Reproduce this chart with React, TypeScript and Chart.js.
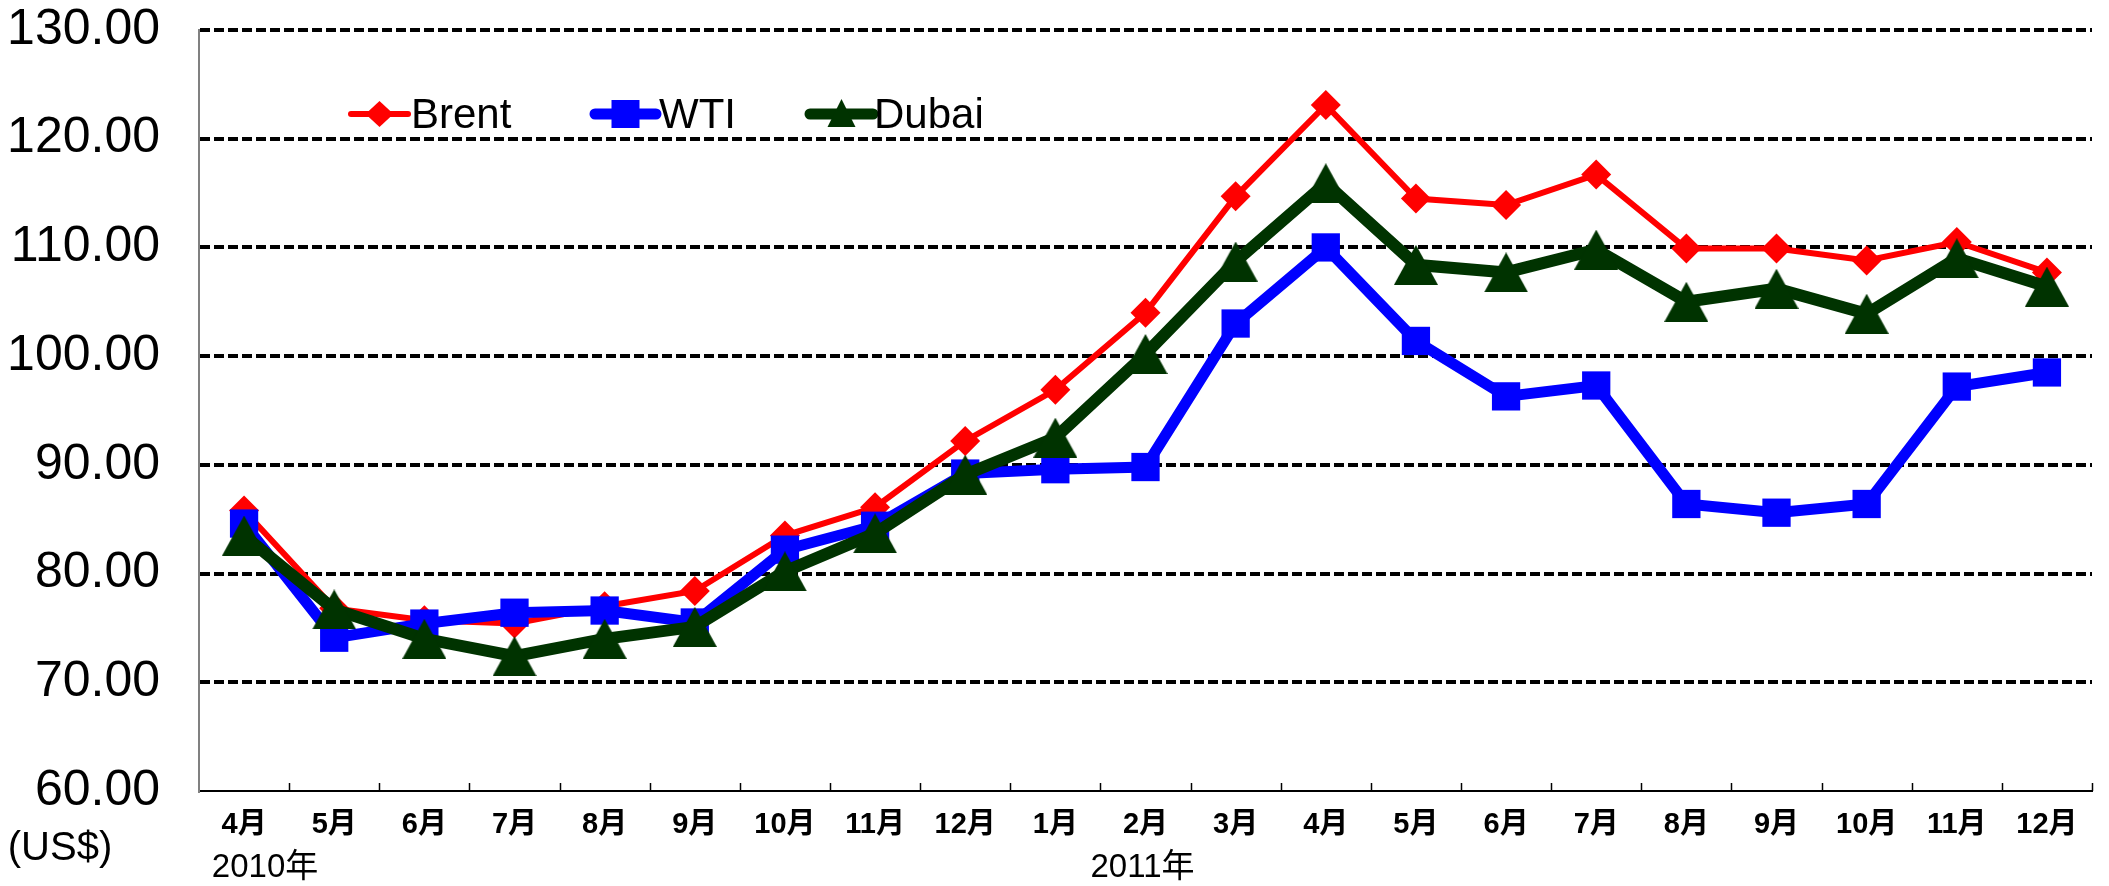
import React, { useEffect, useRef } from 'react';
import { Chart, registerables } from 'chart.js';

Chart.register(...registerables);

// ---- data ----
const monthLabels = ['4月', '5月', '6月', '7月', '8月', '9月', '10月', '11月', '12月', '1月', '2月', '3月', '4月', '5月', '6月', '7月', '8月', '9月', '10月', '11月', '12月'];
const brent = [85.8, 76.8, 75.7, 75.4, 77.0, 78.4, 83.5, 86.1, 92.2, 96.9, 104.0, 114.7, 123.1, 114.5, 113.9, 116.7, 109.9, 109.9, 108.8, 110.5, 107.7];
const wti = [84.6, 74.1, 75.4, 76.4, 76.6, 75.5, 82.2, 84.4, 89.2, 89.6, 89.8, 103.0, 110.0, 101.4, 96.3, 97.3, 86.4, 85.6, 86.4, 97.2, 98.5];
const dubai = [83.5, 76.7, 74.0, 72.4, 74.0, 75.1, 80.2, 83.7, 89.1, 92.5, 100.2, 108.7, 115.9, 108.4, 107.7, 109.8, 105.0, 106.2, 103.9, 109.0, 106.4];
const seriesNames = ['Brent', 'WTI', 'Dubai'];
const seriesColors = ['#FF0000', '#0000FF', '#003300'];
const yearLabels = ['2010年', '2011年'];
const yearLabelIndex = [0, 10];
const unitLabel = '(US$)';
const yMin = 60;
const yMax = 130;
const yStep = 10;

const W = 2109;
const H = 886;

function makeTriangle(color: string, w: number, h: number) {
  const c = document.createElement('canvas');
  c.width = w;
  c.height = h;
  const ctx = c.getContext('2d')!;
  ctx.fillStyle = color;
  ctx.beginPath();
  ctx.moveTo(w / 2, 0);
  ctx.lineTo(w, h);
  ctx.lineTo(0, h);
  ctx.closePath();
  ctx.fill();
  return c;
}

const NARROW = "'Liberation Sans Narrow', 'Liberation Sans', 'Noto Sans CJK JP', sans-serif";
const REG = "'Liberation Sans', 'Noto Sans CJK JP', sans-serif";

const decorPlugin = {
  id: 'decor',
  afterDraw(chart: any) {
    const ctx = chart.ctx as CanvasRenderingContext2D;
    const xs = chart.scales.x;
    const area = chart.chartArea;
    ctx.save();
    // inward tick marks between categories
    ctx.strokeStyle = '#000';
    ctx.lineWidth = 1.5;
    const n = monthLabels.length;
    for (let i = 1; i <= n; i++) {
      const xx = i === n ? area.right : Math.round((xs.getPixelForValue(i - 1) + xs.getPixelForValue(i)) / 2);
      ctx.beginPath();
      ctx.moveTo(xx + 0.5, area.bottom);
      ctx.lineTo(xx + 0.5, area.bottom - 8);
      ctx.stroke();
    }
    // year labels
    ctx.fillStyle = '#000';
    ctx.font = `33px ${NARROW}`;
    ctx.textAlign = 'center';
    ctx.textBaseline = 'middle';
    ctx.fillText(yearLabels[0], xs.getPixelForValue(yearLabelIndex[0]) + 21, 868);
    ctx.fillText(yearLabels[1], xs.getPixelForValue(yearLabelIndex[1]) - 3, 868);
    // unit label
    ctx.font = `40px ${REG}`;
    ctx.fillText(unitLabel, 60, 849);

    // legend
    const legendY = 114;
    const items = [
      { x0: 351, x1: 408, tx: 411 },
      { x0: 595, x1: 656, tx: 659 },
      { x0: 810, x1: 873, tx: 874 },
    ];
    const lws = [6, 11, 11];
    items.forEach((it, i) => {
      const col = seriesColors[i];
      ctx.strokeStyle = col;
      ctx.fillStyle = col;
      ctx.lineWidth = lws[i];
      ctx.lineCap = 'round';
      ctx.beginPath();
      ctx.moveTo(it.x0, legendY);
      ctx.lineTo(it.x1, legendY);
      ctx.stroke();
      const cx = (it.x0 + it.x1) / 2;
      ctx.beginPath();
      if (i === 0) {
        ctx.moveTo(cx, legendY - 13);
        ctx.lineTo(cx + 14, legendY);
        ctx.lineTo(cx, legendY + 13);
        ctx.lineTo(cx - 14, legendY);
      } else if (i === 1) {
        ctx.rect(cx - 14, legendY - 14, 28, 28);
      } else {
        ctx.moveTo(cx, legendY - 15);
        ctx.lineTo(cx + 14, legendY + 13);
        ctx.lineTo(cx - 14, legendY + 13);
      }
      ctx.closePath();
      ctx.fill();
      ctx.fillStyle = '#000';
      ctx.font = `42px ${REG}`;
      ctx.textAlign = 'left';
      ctx.textBaseline = 'middle';
      ctx.fillText(seriesNames[i], it.tx, legendY + 2);
    });
    ctx.restore();
  },
};

export default function App() {
  const ref = useRef<HTMLCanvasElement | null>(null);
  useEffect(() => {
    const canvas = ref.current!;
    const tri = makeTriangle(seriesColors[2], 44, 40);
    const chart = new Chart(canvas, {
      type: 'line',
      data: {
        labels: monthLabels,
        datasets: [
          {
            label: seriesNames[0],
            data: brent,
            borderColor: seriesColors[0],
            backgroundColor: seriesColors[0],
            borderWidth: 6,
            pointStyle: 'rectRot',
            pointRadius: 15,
            pointBorderWidth: 0,
            order: 3,
          },
          {
            label: seriesNames[1],
            data: wti,
            borderColor: seriesColors[1],
            backgroundColor: seriesColors[1],
            borderWidth: 11,
            pointStyle: 'rect',
            pointRadius: 20,
            pointBorderWidth: 0,
            order: 2,
          },
          {
            label: seriesNames[2],
            data: dubai,
            borderColor: seriesColors[2],
            backgroundColor: seriesColors[2],
            borderWidth: 12,
            pointStyle: tri as any,
            pointRadius: 22,
            pointBorderWidth: 0,
            order: 1,
          },
        ],
      },
      options: {
        responsive: false,
        animation: false,
        events: [],
        layout: { autoPadding: false, padding: { left: 0, right: 17, top: 0, bottom: 0 } },
        plugins: { legend: { display: false }, tooltip: { enabled: false } },
        elements: { line: { tension: 0, borderJoinStyle: 'miter', borderCapStyle: 'butt' } },
        scales: {
          x: {
            offset: true,
            grid: { display: false, drawTicks: false },
            border: { display: true, color: '#000', width: 2 },
            ticks: {
              color: '#000',
              font: { family: NARROW, size: 29, weight: 'bold' },
              padding: 17,
              maxRotation: 0,
              autoSkip: false,
            },
            afterFit: (s: any) => { s.height = H - 791; },
          },
          y: {
            min: yMin,
            max: yMax,
            grid: {
              color: (c: any) => (c.tick && c.tick.value === yMin ? 'rgba(0,0,0,0)' : '#000'),
              lineWidth: 4,
              drawTicks: false,
            },
            border: { display: true, color: '#808080', width: 2, dash: [10, 4] },
            ticks: {
              stepSize: yStep,
              color: '#000',
              font: { family: NARROW, size: 50 },
              padding: 39,
              callback: (v: any) => Number(v).toFixed(2),
            },
            afterFit: (s: any) => { s.width = 199; s.paddingTop = 30; s.paddingBottom = 0; },
          },
        },
      },
      plugins: [decorPlugin],
    });
    return () => chart.destroy();
  }, []);
  return (
    <div style={{ position: 'fixed', left: 0, top: 0, width: W, height: H, background: '#fff' }}>
      <canvas ref={ref} width={W} height={H} style={{ display: 'block', width: W, height: H }} />
    </div>
  );
}
